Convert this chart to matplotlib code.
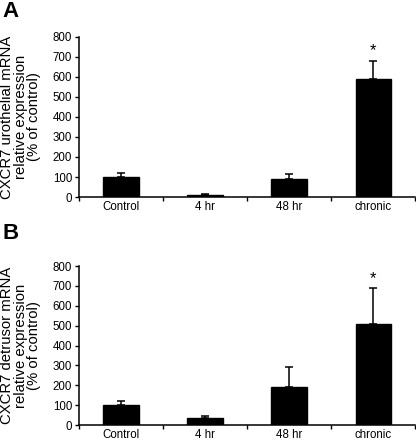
import matplotlib.pyplot as plt
import numpy as np

plt.rcParams['font.family'] = ['Liberation Sans', 'DejaVu Sans']

grupos = ['Control', '4 hr', '48 hr', 'chronic']
uro_media = [100, 10, 90, 590]
uro_erro = [20, 6, 25, 92]
det_media = [100, 35, 190, 510]
det_erro = [20, 10, 103, 178]
signif = [False, False, False, True]

fig = plt.figure(figsize=(4.16, 4.44), dpi=100)
ax_a = fig.add_axes([0.190, 0.5563, 0.808, 0.3604])
ax_b = fig.add_axes([0.190, 0.0425, 0.808, 0.3584])

paineis = [
    (ax_a, uro_media, uro_erro, 'CXCR7 urothelial mRNA\nrelative expression\n(% of control)', 'A'),
    (ax_b, det_media, det_erro, 'CXCR7 detrusor mRNA\nrelative expression\n(% of control)', 'B'),
]

x = np.arange(len(grupos))
for ax, media, erro, rotulo, letra in paineis:
    ax.bar(x, media, width=0.42, color='black', edgecolor='black')
    ax.errorbar(x, media, yerr=[np.zeros(len(erro)), erro], fmt='none',
                ecolor='black', elinewidth=1.1, capsize=2.8, capthick=1.1)
    for i, s in enumerate(signif):
        if s:
            ax.text(x[i], media[i] + erro[i] + 12, '*', ha='center', va='bottom',
                    fontsize=12)
    ax.set_xlim(-0.5, 3.5)
    ax.set_ylim(0, 800)
    ax.set_yticks(range(0, 801, 100))
    ax.set_xticks(x)
    ax.set_xticklabels(grupos)
    ax.set_xticks(np.arange(-0.5, 3.6, 1), minor=True)
    ax.tick_params(axis='x', which='major', length=0, pad=3, labelsize=8.3)
    ax.tick_params(axis='x', which='minor', length=3, width=1)
    ax.tick_params(axis='y', length=3, width=1, pad=2, labelsize=8.3)
    for lado in ['top', 'right']:
        ax.spines[lado].set_visible(False)
    for lado in ['left', 'bottom']:
        ax.spines[lado].set_linewidth(1.1)
    ax.set_ylabel(rotulo, fontsize=10.7, linespacing=0.95)
    ax.yaxis.set_label_coords(-0.112, 0.5)

fig.text(0.006, 0.997, 'A', fontsize=16, fontweight='bold', va='top', ha='left')
fig.text(0.006, 0.497, 'B', fontsize=16, fontweight='bold', va='top', ha='left')

fig.savefig('out.png', dpi=100)
